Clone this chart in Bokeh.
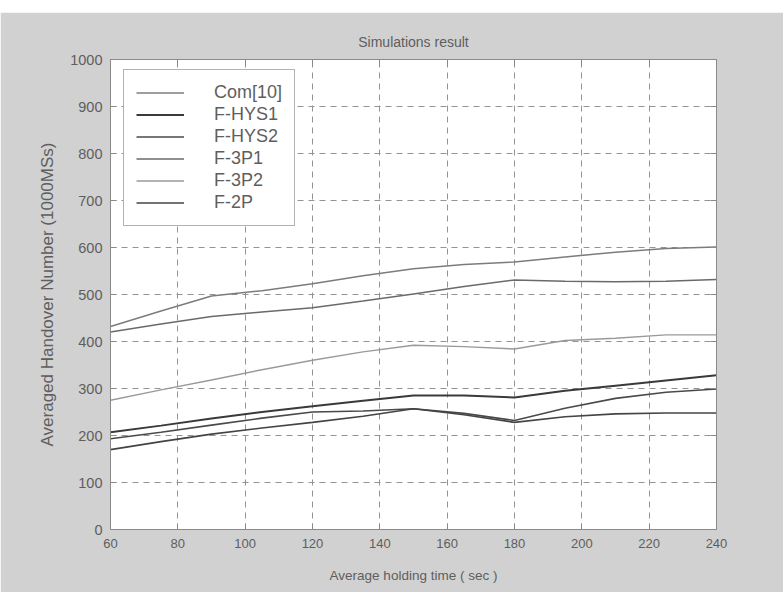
from bokeh.plotting import figure
from bokeh.models import (LinearAxis, Range1d, Legend, LegendItem,
                          FixedTicker, Spacer)
from bokeh.layouts import column
from bokeh.embed import file_html
from bokeh.resources import INLINE

# Average holding time (sec) at which each scheme was simulated
holding_time = [60, 75, 90, 105, 120, 135, 150, 165, 180, 195, 210, 225, 240]

# Averaged handover number per 1000 MSs
com10 = [432, 465, 497, 508, 523, 540, 555, 564, 569, 580, 590, 598, 601]
f_3p1 = [420, 437, 453, 463, 472, 486, 501, 517, 531, 528, 527, 528, 532]
f_3p2 = [275, 297, 318, 340, 360, 378, 392, 389, 384, 402, 407, 414, 414]
f_hys1 = [207, 221, 236, 250, 262, 274, 285, 285, 281, 295, 306, 317, 328]
f_hys2 = [193, 207, 222, 237, 250, 252, 257, 247, 232, 258, 279, 292, 299]
f_2p = [170, 187, 203, 216, 228, 241, 257, 244, 228, 240, 246, 248, 248]

x_ticks = [60, 80, 100, 120, 140, 160, 180, 200, 220, 240]
y_ticks = [0, 100, 200, 300, 400, 500, 600, 700, 800, 900, 1000]

FONT = "Liberation Sans"
TEXT = "#5e5e5e"
AXIS = "#8a8a8a"
BG = "#d1d1d1"

p = figure(width=783, height=580, x_range=Range1d(60, 240), y_range=Range1d(0, 1000),
           output_backend="svg", toolbar_location=None,
           title="Simulations result",
           min_border_left=110, min_border_right=67,
           min_border_top=47, min_border_bottom=63,
           background_fill_color="white", border_fill_color=BG,
           outline_line_color=AXIS)

p.title.align = "center"
p.title.text_font = FONT
p.title.text_font_size = "14px"
p.title.text_font_style = "normal"
p.title.text_color = TEXT
p.title.standoff = 19

# box axes with inward ticks on every side
for ax in p.xaxis + p.yaxis:
    ax.major_tick_in = 6
    ax.major_tick_out = 0
    ax.minor_tick_in = 0
    ax.minor_tick_out = 0
    ax.axis_line_color = AXIS
    ax.major_tick_line_color = AXIS
    ax.major_label_text_font = FONT
    ax.major_label_text_color = TEXT
    ax.axis_label_text_font = FONT
    ax.axis_label_text_color = TEXT
    ax.axis_label_text_font_style = "normal"

p.xaxis.ticker = FixedTicker(ticks=x_ticks)
p.yaxis.ticker = FixedTicker(ticks=y_ticks)
p.xaxis.major_label_text_font_size = "13px"
p.yaxis.major_label_text_font_size = "14.5px"
p.xaxis.major_label_standoff = 9
p.yaxis.major_label_standoff = 8
p.xaxis.axis_label = "Average holding time ( sec )"
p.yaxis.axis_label = "Averaged Handover Number (1000MSs)"
p.xaxis.axis_label_text_font_size = "13.5px"
p.yaxis.axis_label_text_font_size = "17px"
p.xaxis.axis_label_standoff = 17
p.yaxis.axis_label_standoff = 10

# tick-only axes closing the box on the top and right
for loc, ticks in (("above", x_ticks), ("right", y_ticks)):
    ax = LinearAxis(ticker=FixedTicker(ticks=ticks),
                    major_tick_in=6, major_tick_out=0,
                    minor_tick_in=0, minor_tick_out=0,
                    major_label_text_color=None,
                    major_label_text_font_size="10px",
                    axis_line_color=AXIS, major_tick_line_color=AXIS)
    p.add_layout(ax, loc)

p.xgrid.ticker = FixedTicker(ticks=x_ticks)
p.ygrid.ticker = FixedTicker(ticks=y_ticks)
for g in (p.xgrid, p.ygrid):
    g.grid_line_color = "#939393"
    g.grid_line_dash = "6 5"
    g.grid_line_width = 1

series = [
    ("Com[10]", com10, "#7c7c7c", 1.5),
    ("F-HYS1", f_hys1, "#3a3a3a", 2.0),
    ("F-HYS2", f_hys2, "#4a4a4a", 1.6),
    ("F-3P1", f_3p1, "#6a6a6a", 1.5),
    ("F-3P2", f_3p2, "#9a9a9a", 1.4),
    ("F-2P", f_2p, "#444444", 1.6),
]

items = []
for name, vals, color, w in series:
    r = p.line(holding_time, vals, line_color=color, line_width=w)
    items.append(LegendItem(label=name, renderers=[r]))

legend = Legend(items=items, location=(13, 303),
                label_text_font=FONT, label_text_font_size="18px",
                label_text_color=TEXT,
                glyph_width=48, glyph_height=21, label_height=21,
                label_standoff=30, spacing=1, padding=12, margin=0,
                border_line_color="#666666", border_line_width=1,
                background_fill_color="white", background_fill_alpha=1.0)
p.add_layout(legend, "center")

page = column(Spacer(width=783, height=12), p)
page.spacing = 0

open("out.html", "w").write(file_html(page, INLINE))
